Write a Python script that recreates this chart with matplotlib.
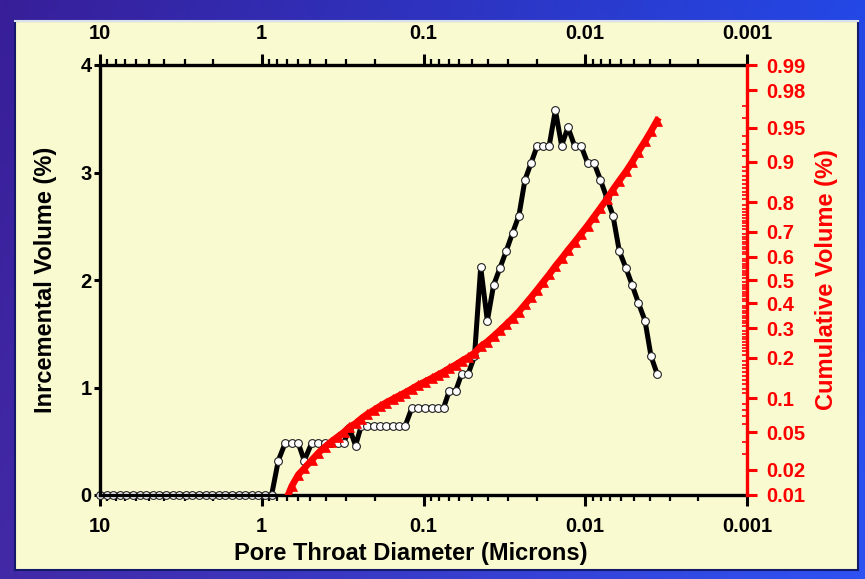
import numpy as np
import matplotlib
matplotlib.use('Agg')
import matplotlib.pyplot as plt
from matplotlib import font_manager as fm
from matplotlib.ticker import FixedLocator, NullFormatter, LogLocator
from matplotlib.patches import Rectangle
from statistics import NormalDist

# ---------------- data ----------------
diameter = [10, 9.10, 8.29, 7.54, 6.87, 6.25, 5.69, 5.18, 4.72, 4.29, 3.91, 3.56,
            3.24, 2.95, 2.68, 2.44, 2.22, 2.02, 1.84, 1.68, 1.53, 1.39, 1.27, 1.15,
            1.05, 0.955, 0.869,
            0.790, 0.718, 0.653, 0.594, 0.546, 0.492, 0.449, 0.409, 0.373, 0.340,
            0.312, 0.287, 0.263, 0.243, 0.223, 0.203, 0.186, 0.170, 0.155, 0.142,
            0.130, 0.118, 0.108, 0.0979, 0.0890, 0.0819, 0.0752, 0.0692, 0.0632,
            0.0580, 0.0528, 0.0484, 0.0443, 0.0403, 0.0369, 0.0337, 0.0308, 0.0281,
            0.0257, 0.0236, 0.0216, 0.0198, 0.0182, 0.0167, 0.0153, 0.0140, 0.0128,
            0.01165, 0.01062, 0.00968, 0.00883, 0.00805, 0.00734, 0.00674, 0.00616,
            0.00560, 0.00512, 0.00470, 0.00427, 0.00392, 0.00360]

incremental = [0] * 27 + [
    0.32, 0.48, 0.48, 0.48, 0.32, 0.48, 0.48, 0.48, 0.48, 0.48, 0.48, 0.62, 0.46,
    0.64, 0.64, 0.64, 0.64, 0.64, 0.64, 0.64, 0.64,
    0.81, 0.81, 0.81, 0.81, 0.81, 0.81, 0.97, 0.97, 1.13, 1.13, 1.29,
    2.12, 1.62, 1.95, 2.11, 2.27, 2.44, 2.60, 2.93,
    3.09, 3.25, 3.25, 3.25, 3.58, 3.25, 3.42, 3.25, 3.25, 3.09, 3.09,
    2.93, 2.76, 2.60, 2.27, 2.11, 1.95, 1.79, 1.62, 1.29, 1.13]

cum_diameter = diameter[27:]
cumulative = [0.0032, 0.0080, 0.0128, 0.0176, 0.0208, 0.0256, 0.0304, 0.0352,
              0.0400, 0.0448, 0.0496, 0.0558, 0.0604, 0.0668, 0.0732, 0.0796,
              0.0860, 0.0924, 0.0988, 0.1052, 0.1116, 0.1197, 0.1278, 0.1359,
              0.1440, 0.1521, 0.1602, 0.1699, 0.1796, 0.1909, 0.2022, 0.2151,
              0.2363, 0.2525, 0.2720, 0.2931, 0.3158, 0.3402, 0.3662, 0.3955,
              0.4264, 0.4589, 0.4914, 0.5239, 0.5597, 0.5922, 0.6264, 0.6589,
              0.6914, 0.7223, 0.7532, 0.7825, 0.8101, 0.8361, 0.8588, 0.8799,
              0.8994, 0.9173, 0.9335, 0.9464, 0.9577]

x_ticks = [10, 1, 0.1, 0.01, 0.001]
x_tick_labels = ['10', '1', '0.1', '0.01', '0.001']
left_ticks = [0, 1, 2, 3, 4]
left_tick_labels = ['0', '1', '2', '3', '4']
right_ticks = [0.01, 0.02, 0.05, 0.1, 0.2, 0.3, 0.4, 0.5, 0.6, 0.7, 0.8, 0.9,
               0.95, 0.98, 0.99]
right_tick_labels = ['0.01', '0.02', '0.05', '0.1', '0.2', '0.3', '0.4', '0.5',
                     '0.6', '0.7', '0.8', '0.9', '0.95', '0.98', '0.99']
right_minor = [v / 100 for v in range(1, 100) if v / 100 not in right_ticks]

x_label = 'Pore Throat Diameter (Microns)'
left_label = 'Inrcemental Volume (%)'
right_label = 'Cumulative Volume (%)'

# ---------------- fonts ----------------
names = {f.name for f in fm.fontManager.ttflist}
FONT = 'Liberation Sans Narrow' if 'Liberation Sans Narrow' in names else 'Liberation Sans'
plt.rcParams['font.family'] = [FONT, 'DejaVu Sans']
plt.rcParams['font.weight'] = 'bold'
TICK_FS = 14.5
LABEL_FS = 17

# ---------------- probability scale ----------------
_nd = NormalDist()
_ppf = np.vectorize(lambda p: _nd.inv_cdf(min(max(float(p), 1e-9), 1 - 1e-9)), otypes=[float])
_cdf = np.vectorize(lambda z: _nd.cdf(float(z)), otypes=[float])


def fwd(p):
    p = np.asarray(p, dtype=float)
    return _ppf(p) if p.size else p


def inv(z):
    z = np.asarray(z, dtype=float)
    return _cdf(z) if z.size else z


W, H = 865, 579
fig = plt.figure(figsize=(W / 100, H / 100), dpi=100)

# background: blue gradient + pale yellow panel
bg = fig.add_axes([0, 0, 1, 1], zorder=-10)
bg.set_xlim(0, W)
bg.set_ylim(H, 0)
bg.axis('off')
gx = np.linspace(0, 1, 200)[None, :]
gy = np.linspace(0, 1, 120)[:, None]
r = 0.22 - 0.08 * gx + 0.04 * gy
g = 0.12 + 0.16 * gx + 0.04 * gy
b = 0.60 + 0.30 * gx + 0.05 * gy
grad = np.clip(np.dstack([r + 0 * gy, g + 0 * gy, b + 0 * gy]), 0, 1)
bg.imshow(grad, extent=[0, W, H, 0], aspect='auto', zorder=0)
bg.add_patch(Rectangle((15, 21), 843, 549, facecolor='#FAFAD0', edgecolor='#141a6a',
                       lw=1.5, zorder=1))
bg.plot([15, 858], [21, 21], color='#d8e0f0', lw=1.5, zorder=2)

# main axes
L, R, T, B = 100, 747, 65, 495
ax = fig.add_axes([L / W, 1 - B / H, (R - L) / W, (B - T) / H])
ax.set_facecolor('none')
ax.set_xscale('log')
ax.set_xlim(10, 0.001)
ax.set_ylim(0, 4)

ax.plot(diameter, incremental, color='black', lw=3.6, marker='o', ms=5.6,
        mfc='white', mec='#222222', mew=0.8, clip_on=False, zorder=2)

for s in ['left', 'bottom', 'top']:
    ax.spines[s].set_linewidth(2.4)
    ax.spines[s].set_color('black')
    ax.spines[s].set_zorder(3)
ax.spines['right'].set_visible(False)

ax.set_xticks(x_ticks)
ax.set_xticklabels(x_tick_labels)
ax.xaxis.set_minor_locator(LogLocator(base=10, subs=np.arange(2, 10)))
ax.xaxis.set_minor_formatter(NullFormatter())
ax.tick_params(axis='x', which='both', top=True, labeltop=True, bottom=True,
               direction='out', labelsize=TICK_FS, color='black')
ax.tick_params(axis='x', which='major', length=8, width=2.2, pad=8)
ax.tick_params(axis='x', which='minor', length=4.5, width=1.6)
ax.set_yticks(left_ticks)
ax.set_yticklabels(left_tick_labels)
ax.tick_params(axis='y', which='both', right=False, left=True, direction='out',
               length=4.5, width=2.2, labelsize=TICK_FS, pad=1.5)
ax.set_xlabel(x_label, fontsize=LABEL_FS, fontweight='bold', labelpad=4)
ax.xaxis.label.set_x((411 - L) / (R - L))
ax.set_ylabel(left_label, fontsize=LABEL_FS, fontweight='bold', labelpad=17)

# right probability axis
ax2 = ax.twinx()
ax2.set_facecolor('none')
ax2.set_yscale('function', functions=(fwd, inv))
ax2.set_ylim(0.01, 0.99)
ax2.plot(cum_diameter, cumulative, color='red', lw=4.8, marker='^', ms=7.5,
         mfc='red', mec='red', mew=0.5, zorder=5)
for s in ['left', 'bottom', 'top']:
    ax2.spines[s].set_visible(False)
ax2.spines['right'].set_color('red')
ax2.spines['right'].set_linewidth(2.4)
ax2.yaxis.set_major_locator(FixedLocator(right_ticks))
ax2.set_yticklabels(right_tick_labels)
ax2.yaxis.set_minor_locator(FixedLocator(right_minor))
ax2.yaxis.set_minor_formatter(NullFormatter())
ax2.tick_params(axis='y', which='major', colors='red', direction='out', length=7,
                width=2.2, labelsize=TICK_FS, pad=7)
ax2.tick_params(axis='y', which='minor', colors='red', direction='in', length=3.5,
                width=1.2)
ax2.set_ylabel(right_label, color='red', fontsize=LABEL_FS, fontweight='bold',
               labelpad=7)

fig.savefig('out.png', dpi=100)
